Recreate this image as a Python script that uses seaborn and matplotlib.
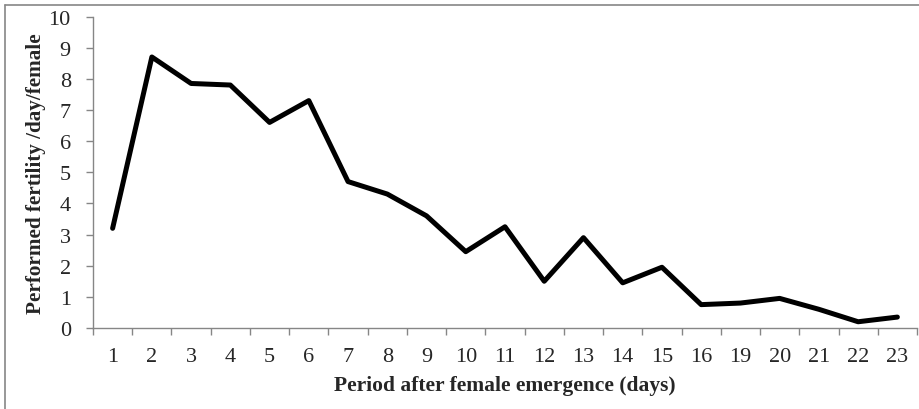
import numpy as np
import matplotlib
matplotlib.use("Agg")
import matplotlib.pyplot as plt
from matplotlib.lines import Line2D
import seaborn as sns

days = ["1", "2", "3", "4", "5", "6", "7", "8", "9", "10", "11", "12",
        "13", "14", "15", "16", "19", "20", "21", "22", "23"]
fertility = [3.2, 8.7, 7.85, 7.8, 6.6, 7.3, 4.7, 4.3, 3.6, 2.45, 3.25, 1.5,
             2.9, 1.45, 1.95, 0.75, 0.8, 0.95, 0.6, 0.2, 0.35]

sns.set_style("white")
plt.rcParams['font.family'] = ['Liberation Serif', 'DejaVu Serif']

fig = plt.figure(figsize=(9.19, 4.10), dpi=100)
ax = fig.add_axes([0.1012, 0.1976, 0.8966, 0.7597])

pos = np.arange(len(days))
sns.lineplot(x=pos, y=fertility, ax=ax, color="black", linewidth=3.6)

ax.set_xlim(-0.5, len(days) - 0.5)
ax.set_ylim(0, 10)
ax.set_yticks(range(0, 11))
ax.set_xticks(pos)
ax.set_xticklabels(days)
ax.set_xticks(np.arange(-0.5, len(days)), minor=True)

grey = "#868686"
for s in ["top", "right"]:
    ax.spines[s].set_visible(False)
for s in ["left", "bottom"]:
    ax.spines[s].set_color(grey)
    ax.spines[s].set_linewidth(1.0)

ax.tick_params(axis="x", which="major", length=0, pad=14, labelsize=16)
ax.tick_params(axis="x", which="minor", length=5, width=1, color=grey, direction="out", bottom=True)
ax.tick_params(axis="y", length=5, width=1, color=grey, direction="out", left=True, labelsize=16, pad=11)

ax.set_xlabel("Period after female emergence (days)", fontsize=15.5, fontweight="bold", labelpad=6)
ax.set_ylabel("Performed fertility /day/female", fontsize=15.2, fontweight="bold", labelpad=2)

# outer chart frame (top and left edges visible)
fig.add_artist(Line2D([0.005, 1.0], [1 - 6 / 410, 1 - 6 / 410], color=grey, linewidth=1.2, transform=fig.transFigure))
fig.add_artist(Line2D([0.0055, 0.0055], [0.0, 1 - 6 / 410], color=grey, linewidth=1.2, transform=fig.transFigure))

fig.savefig("out.png", dpi=100)
